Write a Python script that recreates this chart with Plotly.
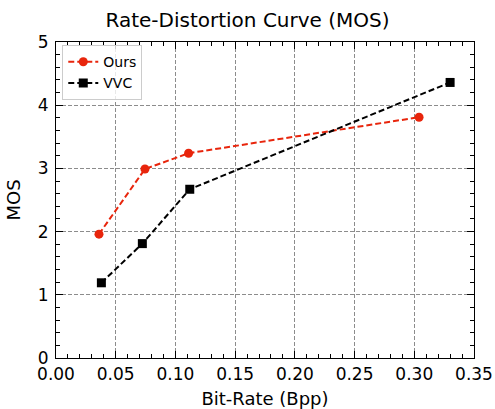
import plotly.graph_objects as go

ours_x = [0.036, 0.0745, 0.111, 0.304]
ours_y = [1.96, 2.99, 3.24, 3.81]
vvc_x = [0.038, 0.0723, 0.112, 0.330]
vvc_y = [1.19, 1.81, 2.67, 4.36]

x_ticks = [0.0, 0.05, 0.10, 0.15, 0.20, 0.25, 0.30, 0.35]
x_labels = ["0.00", "0.05", "0.10", "0.15", "0.20", "0.25", "0.30", "0.35"]
y_ticks = [0, 1, 2, 3, 4, 5]

font = "DejaVu Sans"

fig = go.Figure()
fig.add_trace(go.Scatter(x=ours_x, y=ours_y, name="Ours", mode="lines+markers",
                         line=dict(color="#e8250c", width=2, dash="6px,3px"),
                         marker=dict(symbol="circle", size=9, color="#e8250c")))
fig.add_trace(go.Scatter(x=vvc_x, y=vvc_y, name="VVC", mode="lines+markers",
                         line=dict(color="black", width=2, dash="6px,3px"),
                         marker=dict(symbol="square", size=9, color="black")))

axis_common = dict(showline=True, linecolor="black", linewidth=1.2, mirror="allticks",
                   ticks="inside", ticklen=7, tickwidth=1, tickcolor="black",
                   showgrid=True, gridcolor="#8c8c8c", griddash="4px,2px", gridwidth=1,
                   zeroline=False, automargin=False,
                   tickfont=dict(size=17, color="black", family=font))

fig.update_xaxes(range=[0, 0.35], tickvals=x_ticks, ticktext=x_labels,
                 title=dict(text="Bit-Rate (Bpp)", font=dict(size=18, color="black", family=font), standoff=9),
                 minor=dict(dtick=0.01, ticks="inside", ticklen=4, tickcolor="black", showgrid=False),
                 **axis_common)
fig.update_yaxes(range=[0, 5], tickvals=y_ticks, ticklabelstandoff=3,
                 title=dict(text="MOS", font=dict(size=18, color="black", family=font), standoff=12),
                 minor=dict(dtick=0.2, ticks="inside", ticklen=4, tickcolor="black", showgrid=False),
                 **axis_common)

fig.update_layout(
    width=495, height=409,
    margin=dict(l=56, r=21, t=42, b=51),
    paper_bgcolor="white", plot_bgcolor="white",
    title=dict(text="Rate-Distortion Curve (MOS)", x=0.5, xanchor="center", y=1 - 20 / 409, yanchor="middle",
               font=dict(size=20, color="black", family=font)),
    legend=dict(x=0.015, y=0.99, xanchor="left", yanchor="top",
                bordercolor="#cccccc", borderwidth=1, bgcolor="rgba(255,255,255,0.8)",
                font=dict(size=14, color="black", family=font), tracegroupgap=0),
    font=dict(family=font),
)

fig.write_html("out.html", config={"displayModeBar": False},
               post_script="document.body.style.margin='0px';document.body.style.overflow='hidden';")
